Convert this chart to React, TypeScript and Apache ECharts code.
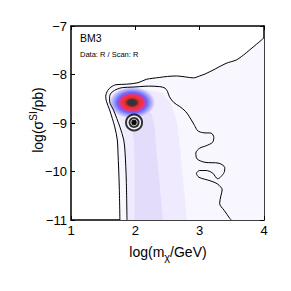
import React, { useEffect, useRef } from "react";
import * as echarts from "echarts";

const X_RANGE = [1, 4];
const Y_RANGE = [-11, -7];

const OUTER: number[][] = [
  [1.76, -11], [1.75, -10.3], [1.73, -9.6], [1.72, -9.35], [1.68, -9.08], [1.6, -8.73],
  [1.55, -8.55], [1.54, -8.45], [1.57, -8.33], [1.62, -8.26], [1.7, -8.21], [1.86, -8.2],
  [2.04, -8.17], [2.17, -8.1], [2.38, -8.06], [2.5, -8.04], [2.64, -8.03], [2.78, -8.05],
  [2.9, -8.07], [3.0, -8.03], [3.1, -7.98], [3.25, -7.88], [3.41, -7.77], [3.57, -7.7],
  [3.68, -7.6], [3.78, -7.49], [3.88, -7.38], [3.96, -7.29], [4.0, -7.24],
];

const INNER: number[][] = [
  [1.87, -11], [1.86, -10.2], [1.84, -9.6], [1.82, -9.35], [1.76, -9.08], [1.66, -8.73],
  [1.6, -8.55], [1.6, -8.45], [1.64, -8.36], [1.72, -8.3], [1.8, -8.27], [1.95, -8.26],
  [2.07, -8.25], [2.2, -8.24], [2.38, -8.25], [2.46, -8.28], [2.5, -8.35], [2.53, -8.46],
  [2.6, -8.58], [2.69, -8.66], [2.78, -8.76], [2.84, -8.87], [2.92, -9.05], [2.97, -9.16],
  [3.05, -9.2], [3.18, -9.21], [3.22, -9.3], [3.2, -9.4], [3.1, -9.47], [3.0, -9.52],
  [2.94, -9.62], [2.96, -9.74], [3.08, -9.81], [3.3, -9.83], [3.39, -9.92], [3.38, -10.02],
  [3.28, -10.15], [3.2, -10.03], [3.1, -9.98], [3.0, -9.98], [2.95, -10.04], [2.99, -10.12],
  [3.16, -10.19], [3.28, -10.26], [3.35, -10.38], [3.33, -10.5], [3.31, -10.66],
  [3.38, -10.8], [3.47, -10.97], [3.49, -11],
];

const LIGHT_REGION: number[][] = [...OUTER, [4, -11]];
const MID_REGION: number[][] = [
  [1.87, -11], [1.86, -10], [1.84, -9.4], [1.8, -9.1], [1.72, -8.8], [1.68, -8.55],
  [1.75, -8.38], [1.95, -8.33], [2.2, -8.32], [2.42, -8.38], [2.55, -8.6], [2.65, -9.0],
  [2.7, -9.6], [2.75, -10.3], [2.8, -11],
];
const DARK_REGION: number[][] = [
  [1.99, -11], [1.99, -10], [1.98, -9.4], [1.95, -9.1], [1.9, -8.85], [2.05, -8.75],
  [2.25, -8.8], [2.3, -9.1], [2.33, -9.6], [2.38, -10.3], [2.43, -11],
];
const REGIONS = [LIGHT_REGION, MID_REGION, DARK_REGION];
const REGION_COLORS = ["#f8f6fe", "#efeafd", "#e3dcfb"];

const PEAK: number[] = [1.95, -8.58];
const BENCHMARK: number[] = [1.98, -8.99];

const X_TICKS_FMT = (v: number) => String(v);
const Y_TICKS_FMT = (v: number) => (v < 0 ? "\u2212" + Math.abs(v) : String(v));

export default function App() {
  const ref = useRef<HTMLDivElement>(null);
  useEffect(() => {
    if (!ref.current) return;
    const chart = echarts.init(ref.current, undefined, { renderer: "svg" });
    const font = "Liberation Sans, Arial, sans-serif";
    const axisCommon = {
      type: "value" as const,
      axisLine: { show: true, lineStyle: { color: "#000", width: 1.5 } },
      axisTick: { show: true, inside: true, length: 4, lineStyle: { color: "#000", width: 1 } },
      splitLine: { show: false },
    };
    chart.setOption({
      animation: false,
      backgroundColor: "#fff",
      grid: { left: 71, right: 27, top: 26, bottom: 71 },
      xAxis: [
        {
          ...axisCommon,
          min: X_RANGE[0], max: X_RANGE[1], interval: 1, position: "bottom",
          axisLabel: { color: "#000", fontSize: 13, fontFamily: font, margin: 4, formatter: X_TICKS_FMT },
        },
        {
          ...axisCommon,
          min: X_RANGE[0], max: X_RANGE[1], interval: 1, position: "top",
          axisLabel: { show: false },
        },
      ],
      yAxis: [
        {
          ...axisCommon,
          min: Y_RANGE[0], max: Y_RANGE[1], interval: 1, position: "left",
          axisLabel: { color: "#000", fontSize: 13, fontFamily: font, margin: 4, formatter: Y_TICKS_FMT },
        },
        {
          ...axisCommon,
          min: Y_RANGE[0], max: Y_RANGE[1], interval: 1, position: "right",
          axisLabel: { show: false },
        },
      ],
      graphic: [
        {
          type: "text", left: 80, top: 32, z: 100,
          style: { text: "BM3", fontSize: 10.5, fontFamily: font, fill: "#000" },
        },
        {
          type: "text", left: 80, top: 50, z: 100,
          style: { text: "Data: R / Scan: R", fontSize: 7.5, fontFamily: font, fill: "#000" },
        },
        {
          type: "text", x: 168, y: 252, z: 100,
          style: {
            text: "log(m{sub|\u03c7}/GeV)", fontSize: 14, fontFamily: font, fill: "#000",
            align: "center", verticalAlign: "middle",
            rich: { sub: { fontSize: 11, fontFamily: font, fill: "#000", padding: [10, 0, 0, 0] } },
          },
        },
        {
          type: "text", x: 38, y: 120, rotation: Math.PI / 2, z: 100,
          style: {
            text: "log(\u03c3{sup|SI}/pb)", fontSize: 14, fontFamily: font, fill: "#000",
            align: "center", verticalAlign: "middle",
            rich: { sup: { fontSize: 10, fontFamily: font, fill: "#000", padding: [0, 0, 9, 0] } },
          },
        },
      ],
      series: [
        {
          type: "custom",
          coordinateSystem: "cartesian2d",
          clip: true,
          silent: true,
          data: REGIONS.map((_, i) => [2, -9, i]),
          renderItem: (params: any, api: any) => {
            const idx = params.dataIndex;
            const pts = REGIONS[idx].map((p) => api.coord(p));
            return { type: "polygon", shape: { points: pts }, style: { fill: REGION_COLORS[idx] } };
          },
          z: 1,
        },
        {
          type: "scatter",
          silent: true,
          data: [PEAK],
          symbol: "circle",
          symbolSize: [48, 33],
          itemStyle: {
            color: {
              type: "radial", x: 0.5, y: 0.5, r: 0.5,
              colorStops: [
                { offset: 0, color: "#000000" },
                { offset: 0.18, color: "#1a0000" },
                { offset: 0.3, color: "#e00000" },
                { offset: 0.42, color: "#ff0010" },
                { offset: 0.52, color: "#c0108a" },
                { offset: 0.62, color: "#4848ff" },
                { offset: 0.76, color: "#8c8cf8" },
                { offset: 0.88, color: "#c8c2fa" },
                { offset: 1, color: "rgba(239,234,253,0)" },
              ],
            },
          },
          z: 2,
        },
        {
          type: "line", data: OUTER, showSymbol: false, silent: true, smooth: 0.3,
          lineStyle: { color: "#000", width: 1 }, z: 3,
        },
        {
          type: "line", data: INNER, showSymbol: false, silent: true, smooth: 0.3,
          lineStyle: { color: "#000", width: 1 }, z: 3,
        },
        {
          type: "scatter", silent: true, data: [BENCHMARK], symbol: "circle", symbolSize: 16,
          itemStyle: { color: "#fff", borderColor: "#000", borderWidth: 2 }, z: 4,
        },
        {
          type: "scatter", silent: true, data: [BENCHMARK], symbol: "circle", symbolSize: 11,
          itemStyle: { color: "#000" }, z: 5,
        },
        {
          type: "scatter", silent: true, data: [BENCHMARK], symbol: "circle", symbolSize: 6.5,
          itemStyle: { color: "rgba(0,0,0,0)", borderColor: "#fff", borderWidth: 0.9 }, z: 6,
        },
        {
          type: "scatter", silent: true, data: [BENCHMARK], symbol: "rect", symbolSize: 4,
          itemStyle: { color: "#000" }, z: 7,
        },
      ],
    });
    return () => chart.dispose();
  }, []);
  return <div ref={ref} style={{ width: 291, height: 291, margin: -8 }} />;
}
